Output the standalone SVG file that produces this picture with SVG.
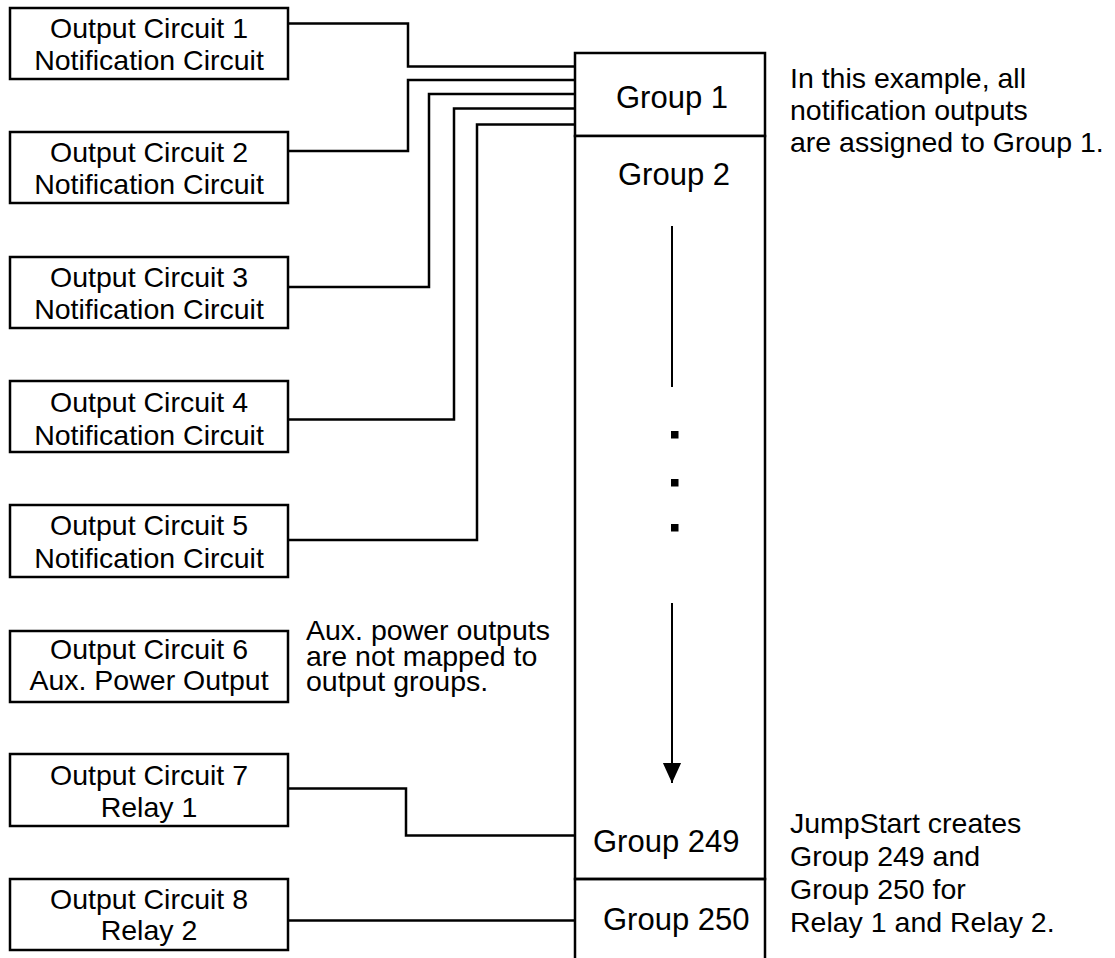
<svg xmlns="http://www.w3.org/2000/svg" width="1115" height="958" viewBox="0 0 1115 958">
<defs>
<style>
.box{fill:#fff;stroke:#000;stroke-width:2.5}
.wire{fill:none;stroke:#000;stroke-width:2.5}
.t{font-family:"Liberation Sans",Arial,sans-serif;font-size:28.5px;fill:#000}
.c{text-anchor:middle}
.g{font-family:"Liberation Sans",Arial,sans-serif;font-size:31px;fill:#000}
</style>
<marker id="ah" markerWidth="20" markerHeight="24" refX="22" refY="10" orient="auto" markerUnits="userSpaceOnUse" viewBox="0 0 22 20">
<path d="M0,0 L22,10 L0,20 Z" fill="#000"/>
</marker>
</defs>
<rect width="1115" height="958" fill="#fff"/>

<g id="connectors">
<polyline class="wire" points="288,23.5 408,23.5 408,66.5 575,66.5"/>
<polyline class="wire" points="288,151 408,151 408,80 575,80"/>
<polyline class="wire" points="288,287 429,287 429,94 575,94"/>
<polyline class="wire" points="288,419.5 454,419.5 454,108.5 575,108.5"/>
<polyline class="wire" points="288,540 477,540 477,124.5 575,124.5"/>
<polyline class="wire" points="288,788.5 406,788.5 406,835.5 575,835.5"/>
<polyline class="wire" points="288,920.5 575,920.5"/>
</g>

<g id="oc1"><rect class="box" x="10" y="8" width="278" height="71"/>
<text class="t c" x="149" y="37.5">Output Circuit 1</text><text class="t c" x="149" y="70">Notification Circuit</text></g>
<g id="oc2"><rect class="box" x="10" y="132" width="278" height="71"/>
<text class="t c" x="149" y="161.5">Output Circuit 2</text><text class="t c" x="149" y="194">Notification Circuit</text></g>
<g id="oc3"><rect class="box" x="10" y="257" width="278" height="71"/>
<text class="t c" x="149" y="286.5">Output Circuit 3</text><text class="t c" x="149" y="319">Notification Circuit</text></g>
<g id="oc4"><rect class="box" x="10" y="381" width="278" height="71"/>
<text class="t c" x="149" y="412">Output Circuit 4</text><text class="t c" x="149" y="444.5">Notification Circuit</text></g>
<g id="oc5"><rect class="box" x="10" y="505" width="278" height="72"/>
<text class="t c" x="149" y="535">Output Circuit 5</text><text class="t c" x="149" y="568">Notification Circuit</text></g>
<g id="oc6"><rect class="box" x="10" y="631" width="278" height="71"/>
<text class="t c" x="149" y="658.5">Output Circuit 6</text><text class="t c" x="149" y="690">Aux. Power Output</text></g>
<g id="oc7"><rect class="box" x="10" y="754" width="278" height="72"/>
<text class="t c" x="149" y="785">Output Circuit 7</text><text class="t c" x="149" y="816.5">Relay 1</text></g>
<g id="oc8"><rect class="box" x="10" y="879" width="278" height="71"/>
<text class="t c" x="149" y="908.5">Output Circuit 8</text><text class="t c" x="149" y="940">Relay 2</text></g>

<g id="aux-note">
<text class="t" x="306" y="640">Aux. power outputs</text>
<text class="t" x="306" y="665.5">are not mapped to</text>
<text class="t" x="306" y="691">output groups.</text>
</g>

<g id="group1"><rect class="box" x="575" y="53" width="190" height="83"/>
<text class="g" x="616" y="108">Group 1</text></g>
<g id="group2-249"><rect class="box" x="575" y="136" width="190" height="743"/>
<text class="g" x="618" y="185">Group 2</text>
<line x1="672" y1="226" x2="672" y2="387" stroke="#000" stroke-width="2"/>
<rect x="671" y="431" width="7.5" height="7.5" fill="#000"/>
<rect x="671" y="479" width="7.5" height="7.5" fill="#000"/>
<rect x="671" y="524" width="7.5" height="7.5" fill="#000"/>
<line x1="672" y1="603" x2="672" y2="783" stroke="#000" stroke-width="2" marker-end="url(#ah)"/>
<text class="g" x="593" y="852">Group 249</text></g>
<g id="group250"><path class="wire" d="M575,962 L575,879 L765,879 L765,962"/>
<text class="g" x="603" y="930">Group 250</text></g>

<g id="note1">
<text class="t" x="790" y="88">In this example, all</text>
<text class="t" x="790" y="120">notification outputs</text>
<text class="t" x="790" y="152">are assigned to Group 1.</text>
</g>
<g id="note2">
<text class="t" x="790" y="833">JumpStart creates</text>
<text class="t" x="790" y="866">Group 249 and</text>
<text class="t" x="790" y="899">Group 250 for</text>
<text class="t" x="790" y="932">Relay 1 and Relay 2.</text>
</g>
</svg>
